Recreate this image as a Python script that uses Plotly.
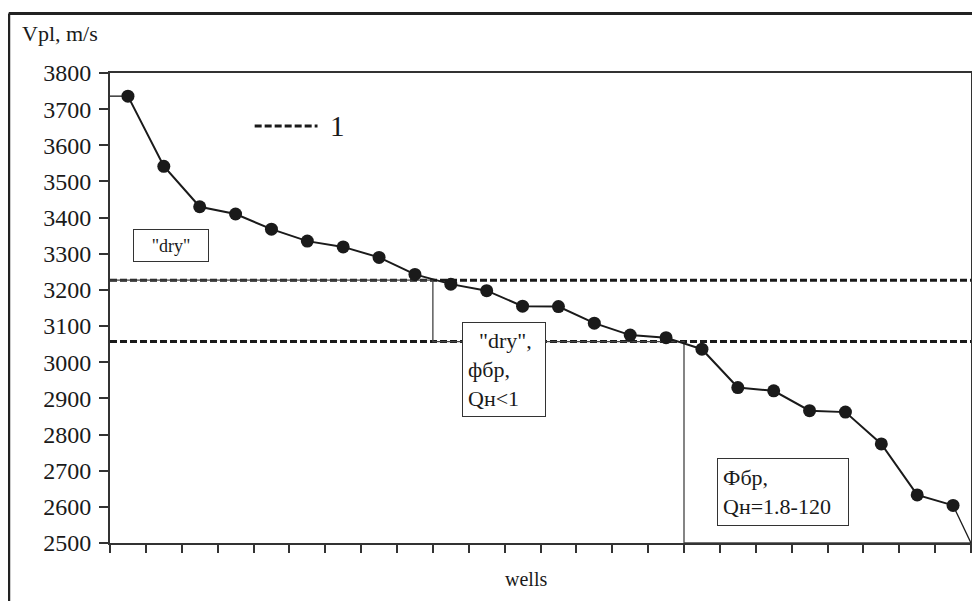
import plotly.graph_objects as go

# ---- data ----
wells = list(range(1, 25))
vpl = [3736, 3542, 3430, 3410, 3368, 3335, 3319, 3290, 3243, 3216, 3198, 3155,
       3154, 3108, 3075, 3068, 3036, 2930, 2921, 2866, 2862, 2774, 2633, 2604]
thresholds = [3227, 3057]          # dashed lines "1"
zone_breaks = [9, 16]              # boundaries between zones (in well slots)
y_ticks = list(range(2500, 3801, 100))
x_ticks = list(range(0, 25))

Y_MIN, Y_MAX = 2500, 3800
N = len(vpl)
xc = [w - 0.5 for w in wells]

FONT = "Liberation Serif"
INK = "#1a1a1a"

fig = go.Figure()

# dashed threshold lines
dx, dy = [], []
for t in thresholds:
    dx += [0, N, None]
    dy += [t, t, None]
fig.add_trace(go.Scatter(x=dx, y=dy, mode="lines",
                         line=dict(color=INK, width=3, dash="7px,3px"),
                         hoverinfo="skip", showlegend=False))

# zone step boundaries
sx = [0, zone_breaks[0], zone_breaks[0], zone_breaks[1], zone_breaks[1], N]
sy = [thresholds[0], thresholds[0], thresholds[1], thresholds[1], Y_MIN, Y_MIN]
fig.add_trace(go.Scatter(x=sx, y=sy, mode="lines",
                         line=dict(color="#444", width=1.3),
                         hoverinfo="skip", showlegend=False))

# thin end connectors
fig.add_trace(go.Scatter(x=[0, xc[0], None, xc[-1], N],
                         y=[vpl[0], vpl[0], None, vpl[-1], Y_MIN],
                         mode="lines", line=dict(color=INK, width=1.3),
                         hoverinfo="skip", showlegend=False))

# main curve
fig.add_trace(go.Scatter(x=xc, y=vpl, mode="lines+markers",
                         line=dict(color=INK, width=2),
                         marker=dict(color=INK, size=13),
                         showlegend=False))

# page has an 8px body margin: figure is offset by (8, 8) on screen
OFF = 8
W, H = 972, 593
L, R, T, B = 102, 7, 65, 58
PW, PH = W - L - R, H - T - B


def px(x):
    return (x - OFF - L) / PW


def py(y):
    return (H - B - (y - OFF)) / PH


shapes = [
    # outer frame (left and top)
    dict(type="line", xref="paper", yref="paper", x0=px(8.5), x1=px(8.5),
         y0=py(640), y1=py(13.5), line=dict(color="#222", width=3)),
    dict(type="line", xref="paper", yref="paper", x0=px(8.5), x1=px(1000),
         y0=py(13.5), y1=py(13.5), line=dict(color="#222", width=3)),
    # legend sample
    dict(type="line", xref="paper", yref="paper", x0=px(255), x1=px(318),
         y0=py(126), y1=py(126), line=dict(color=INK, width=3, dash="7px,3px")),
]

annotations = [
    dict(text="1", xref="paper", yref="paper", x=px(329), y=py(126),
         xanchor="left", yanchor="middle", showarrow=False,
         font=dict(family=FONT, size=29, color=INK)),
    dict(text="Vpl, m/s", xref="paper", yref="paper", x=px(20), y=py(33),
         xanchor="left", yanchor="middle", showarrow=False,
         font=dict(family=FONT, size=22, color=INK)),
    dict(text="wells", xref="paper", yref="paper", x=px(527), y=py(579),
         xanchor="center", yanchor="middle", showarrow=False,
         font=dict(family=FONT, size=20, color=INK)),
    dict(text='"dry"', xref="paper", yref="paper", x=px(133), y=py(229),
         xanchor="left", yanchor="top", showarrow=False,
         width=72, height=29, borderpad=1, align="center",
         bordercolor="#333", borderwidth=1, bgcolor="white",
         font=dict(family=FONT, size=18, color=INK)),
    dict(text='\u00a0\u00a0"dry",<br>фбр,<br>Qн&lt;1', xref="paper", yref="paper",
         x=px(463), y=py(322), xanchor="left", yanchor="top", showarrow=False,
         width=72, height=83, borderpad=5, align="left", valign="middle",
         bordercolor="#333", borderwidth=1, bgcolor="white",
         font=dict(family=FONT, size=22, color=INK)),
    dict(text="Фбр,<br>Qн=1.8-120", xref="paper", yref="paper",
         x=px(718), y=py(458), xanchor="left", yanchor="top", showarrow=False,
         width=120, height=56, borderpad=5, align="left", valign="middle",
         bordercolor="#333", borderwidth=1, bgcolor="white",
         font=dict(family=FONT, size=22, color=INK)),
]

fig.update_layout(
    width=W, height=H,
    margin=dict(l=L, r=R, t=T, b=B),
    paper_bgcolor="white", plot_bgcolor="white",
    shapes=shapes, annotations=annotations,
    showlegend=False,
    xaxis=dict(range=[0, N], tickvals=x_ticks, showticklabels=False,
               ticks="outside", ticklen=8, tickwidth=1.5, tickcolor="#333",
               showline=True, linewidth=2, linecolor="#333", mirror=True,
               showgrid=False, zeroline=False, fixedrange=True),
    yaxis=dict(range=[Y_MIN, Y_MAX], tickvals=y_ticks,
               ticks="outside", ticklen=9, tickwidth=1.5, tickcolor="#333",
               ticklabelstandoff=3,
               tickfont=dict(family=FONT, size=24, color=INK),
               showline=True, linewidth=2, linecolor="#333", mirror=True,
               showgrid=False, zeroline=False, fixedrange=True),
)

fig.write_html("out.html")
